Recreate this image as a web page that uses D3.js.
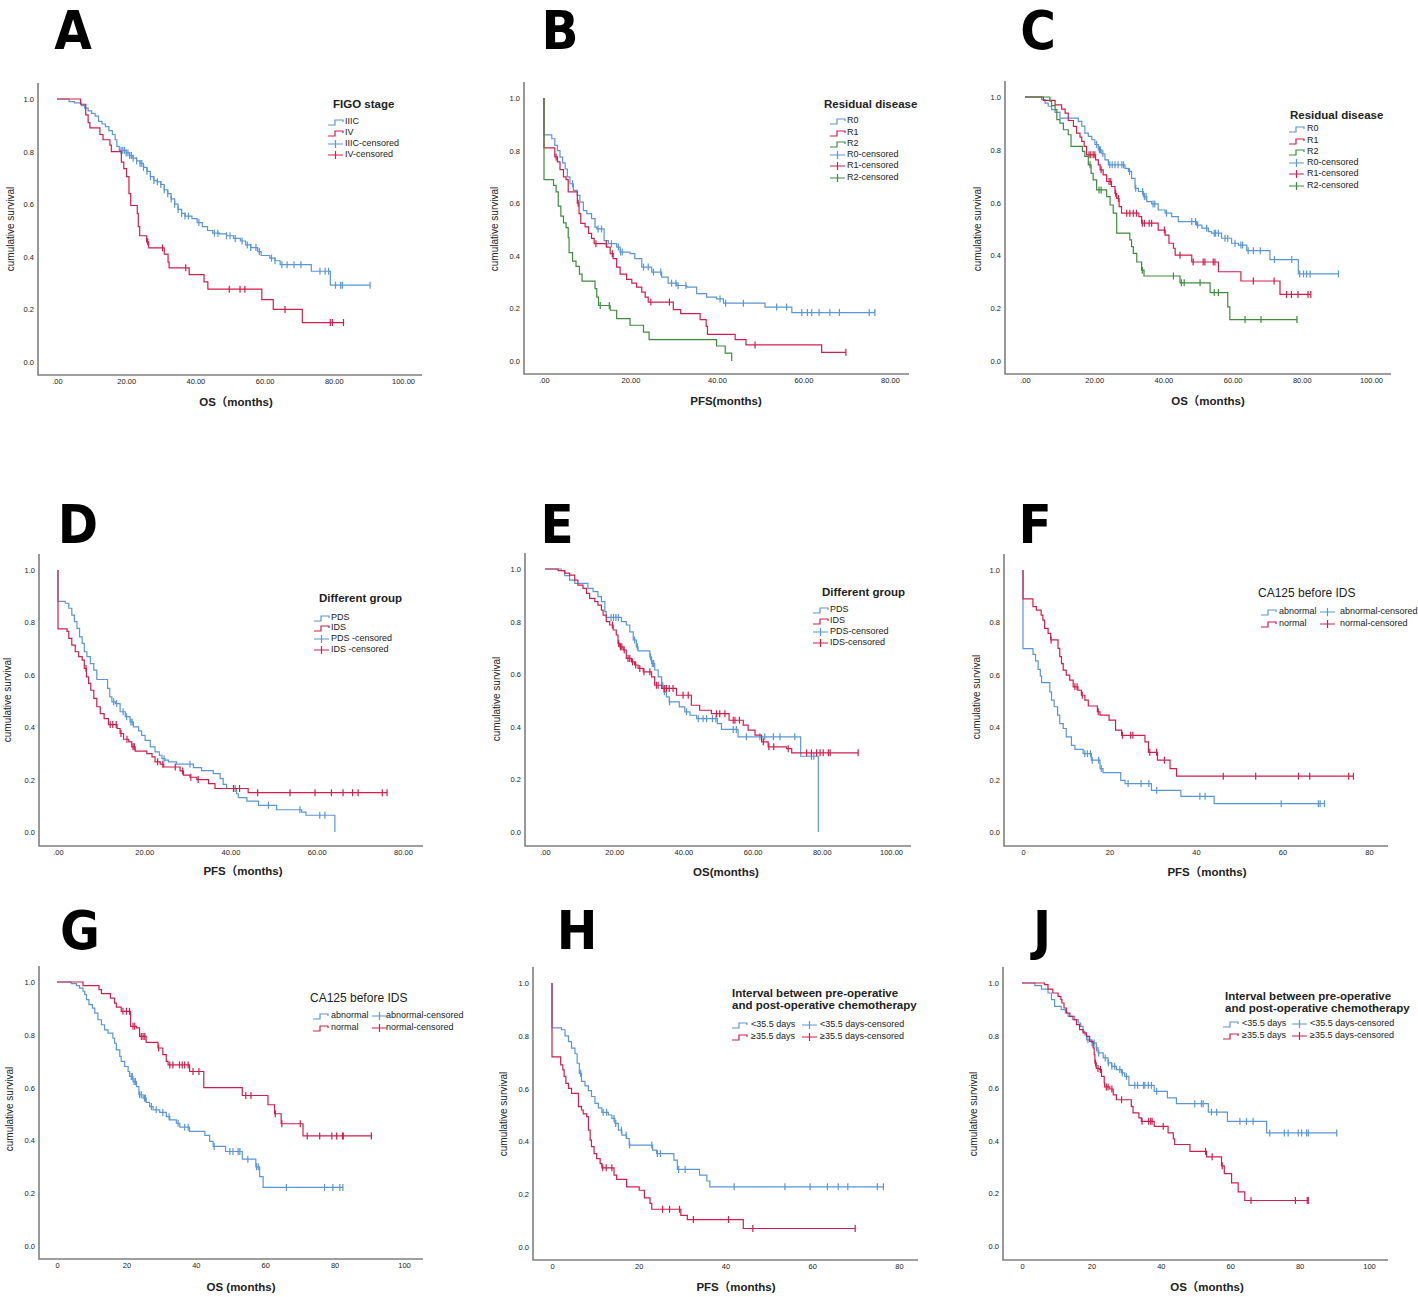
<!DOCTYPE html>
<html>
<head>
<meta charset="utf-8">
<script src="https://cdn.jsdelivr.net/npm/d3@7"></script>
<style>
  body { margin: 0; background: #fff; }
  svg { display: block; }
</style>
</head>
<body>
<div id="chart"></div>
<script>
// ---- data: [time, survival after the drop] steps and censor times ----
const A_IIIC = [[3.5,.99],[5,.985],[7,.975],[8,.965],[9,.955],[10,.945],[11,.935],[12,.915],[13,.905],[14,.895],[15,.88],[16,.865],[16.8,.845],[17.3,.82],[18,.805],[20,.795],[21,.785],[22,.775],[23,.765],[24,.755],[25,.74],[26,.725],[27,.705],[28,.69],[29,.685],[30,.675],[31,.655],[32,.64],[33,.62],[34,.6],[35,.58],[36,.565],[37,.555],[39,.545],[40.5,.53],[42,.515],[43.5,.5],[45,.49],[47,.487],[49,.48],[51,.47],[53,.46],[54.5,.445],[56,.435],[58,.42],[59,.405],[61.5,.395],[63,.385],[64.5,.37],[73.5,.345],[79,.292]]
const A_IIIC_cens = [18.5,19,19.5,20,20.5,21,21.5,22,23,24,24.5,25,26,27,28,29,30,31,32,33,34,35,36,37,38,41,45.5,46.5,49,50,51.5,53.5,55,56,57.5,58.5,62,63,65,66.5,68.5,70.5,76,77.5,78.5,80.5,82,82.5,90.5]
const A_IV = [[6.8,.98],[8.3,.94],[9,.91],[9.5,.89],[12.4,.865],[13.3,.845],[15.3,.825],[15.7,.8],[18.6,.76],[19.3,.735],[20.1,.705],[20.8,.64],[21.3,.595],[23.2,.565],[23.5,.515],[23.9,.48],[25.9,.457],[26.5,.434],[31,.41],[32.1,.38],[32.4,.358],[38.2,.332],[42.5,.305],[43.6,.277],[59.2,.237],[62.5,.2],[70.9,.15]]
const A_IV_cens = [26.2,30.5,37.2,49.8,52.9,54.3,65.9,79,79.6,82.8]

const B_R0 = [[0,.86],[1.8,.845],[2.5,.82],[3.1,.8],[3.7,.775],[4.3,.753],[4.9,.73],[5.4,.7],[6,.674],[6.8,.649],[7.7,.63],[8.3,.604],[9.1,.572],[9.9,.56],[11,.541],[11.8,.509],[12.2,.502],[13.9,.458],[14.9,.446],[16.8,.433],[17.6,.414],[19.9,.408],[21,.389],[22.6,.357],[24.9,.338],[27.2,.319],[28.7,.296],[30.7,.287],[33,.281],[35.3,.256],[37.6,.243],[39.9,.236],[41.5,.22],[51.1,.205],[57.3,.184]]
const B_R0_cens = [6.6,12.5,13.3,15.6,17.2,17.7,18.1,23,24.1,25.3,27,29.5,30.5,31,32.8,40.7,42,46.1,53.8,56.1,59.6,60.9,61.9,63.6,66.1,68.3,75.2,76.5]
const B_R1 = [[0,.81],[2.5,.776],[3.1,.757],[3.7,.728],[4.5,.7],[5.1,.69],[5.6,.643],[7.7,.6],[8.1,.56],[8.5,.523],[9.5,.51],[10.3,.485],[11,.466],[11.6,.446],[14.5,.433],[15.3,.408],[16,.389],[16.8,.357],[17.6,.33],[19.1,.31],[20.3,.296],[21.4,.281],[22.6,.262],[23.4,.243],[24.1,.224],[29.9,.195],[31.6,.18],[36.1,.157],[37.5,.132],[37.8,.101],[44.2,.081],[46.7,.061],[64.2,.033]]
const B_R1_cens = [2.8,7.9,12,14.4,15.8,24.7,29,48.8,69.8]
const B_R2 = [[0,.69],[2.2,.668],[2.8,.643],[3.3,.589],[3.9,.551],[4.5,.525],[5.1,.507],[5.6,.469],[5.8,.412],[6.6,.38],[7.4,.36],[8.2,.33],[8.8,.304],[11.8,.275],[12.2,.243],[12.6,.211],[15.3,.193],[16.8,.161],[19.9,.136],[23,.11],[24.3,.081],[39.9,.057],[41.9,.03],[43.4,0]]
const B_R2_cens = [13,15.1]

const C_R0 = [[4.8,.99],[5.8,.977],[6.7,.965],[7.7,.952],[8.7,.942],[10.1,.92],[15.4,.908],[16.4,.89],[17.3,.863],[18.3,.851],[19.3,.838],[20.2,.82],[21.2,.8],[22.2,.785],[23.1,.762],[24.1,.743],[28.9,.73],[29.9,.718],[30.8,.692],[31.8,.654],[32.8,.642],[34.2,.623],[35.2,.604],[36.6,.595],[38.5,.572],[40.5,.56],[42.4,.547],[44.3,.528],[49.6,.515],[51.1,.503],[53,.49],[53.9,.484],[56.8,.465],[59.7,.446],[61.7,.439],[64.1,.418],[70.8,.384],[79,.33]]
const C_R0_cens = [20.7,21.5,21.8,22.5,24.5,25.2,26,26.9,28,28.5,30.2,32,34,34.5,35,37,37.5,40.9,48.2,49.3,49.9,52.5,54.7,55.1,55.9,57.8,58.6,60.7,62.4,62.9,64.5,66,68,72.1,77.1,79.4,80.5,81.4,82.4,90.6]
const C_R1 = [[5.3,.987],[8.7,.97],[10.6,.954],[11.6,.939],[12.5,.911],[14,.889],[14.9,.863],[15.9,.848],[16.4,.832],[17.1,.813],[17.8,.781],[20.4,.762],[21.2,.743],[21.7,.724],[22.6,.705],[23.6,.68],[25,.661],[26,.635],[26.5,.616],[27.2,.585],[27.9,.56],[32.9,.547],[33.7,.522],[38.5,.496],[40.5,.477],[41.6,.446],[42.9,.427],[43.4,.401],[48.2,.375],[55.9,.338],[62.4,.303],[73.7,.252]]
const C_R1_cens = [18.5,19,19.7,20.2,22,24.3,24.8,26.2,27,29.4,30.3,31.3,32.2,33.9,34.5,35.9,36.6,40.3,44.8,48.6,51.5,52,54.4,54.9,66,72,75.6,77,78.9,81.8,82.6]
const C_R2 = [[7.2,.984],[7.7,.967],[8.7,.952],[9.2,.914],[10.1,.901],[11.1,.876],[12.5,.857],[13.3,.813],[16.6,.794],[17.3,.775],[18.3,.743],[19.1,.711],[19.7,.686],[20.7,.648],[23.6,.623],[24.6,.591],[25.5,.56],[26.5,.484],[30.3,.459],[30.8,.433],[31.3,.408],[32.3,.375],[33.7,.344],[34.4,.322],[44.8,.296],[53.5,.259],[58.6,.205],[59.2,.157]]
const C_R2_cens = [18.8,21.4,22,33.9,42.9,45.2,46,50.6,54.7,55.9,63.6,68.2,78.6]

const D_PDS = [[0,.88],[1.7,.873],[2.5,.854],[3.2,.828],[3.8,.803],[4.4,.777],[5,.745],[5.6,.72],[6.1,.688],[6.7,.669],[7.5,.643],[8.3,.618],[9,.582],[11.5,.548],[12,.516],[12.5,.497],[13.3,.49],[14.4,.459],[15.6,.44],[16.7,.42],[17.5,.401],[18.7,.386],[19.4,.369],[20.2,.35],[21.4,.325],[22.5,.306],[23.5,.293],[24.1,.28],[24.8,.274],[25.6,.268],[27.5,.259],[31.4,.246],[33.3,.234],[36,.223],[37.6,.204],[38.3,.182],[39.1,.166],[41.4,.146],[41.8,.131],[43.8,.118],[46.5,.102],[50.7,.085],[56.5,.076],[57.5,.064],[64.2,0]]
const D_PDS_cens = [12.9,13.6,15.1,15.9,16.9,17.2,24.6,30.6,40.7,41.1,48.8,56.1,60.7,61.9]
const D_IDS = [[0,.775],[2.1,.766],[2.5,.739],[3.2,.713],[4,.688],[4.8,.669],[5.6,.656],[6.1,.624],[6.6,.592],[7.1,.567],[7.6,.541],[8.3,.51],[9,.478],[9.8,.452],[10.7,.433],[11.7,.41],[13.7,.395],[14.4,.376],[15.2,.354],[16.4,.344],[17.1,.325],[17.9,.309],[20.6,.299],[21.8,.287],[22.5,.268],[23.7,.259],[24.5,.248],[28.3,.233],[29.1,.217],[30.6,.209],[32.2,.2],[34.9,.185],[36.4,.166],[44.1,.15]]
const D_IDS_cens = [6.5,12.1,12.7,13.5,14.6,16,17.4,17.7,23.1,24.3,27.2,28.9,30.8,32.5,40.7,42.1,46.3,53.8,59.6,63.4,66.1,68.3,69.6,75.2,76.3]

const E_PDS = [[4.7,.994],[5.7,.975],[7.1,.958],[8.6,.945],[12.4,.926],[13.9,.914],[15.3,.895],[16.3,.876],[17.3,.838],[17.7,.816],[22.1,.8],[23.5,.787],[24.5,.761],[25.5,.73],[26.4,.704],[26.9,.689],[30.3,.666],[30.8,.641],[31.7,.616],[32.7,.59],[33.7,.558],[34.3,.533],[35.1,.514],[35.9,.495],[38.8,.476],[40.4,.457],[41.9,.444],[43.8,.431],[49.8,.412],[51,.39],[55.8,.362],[73.9,.288],[79,0]]
const E_PDS_cens = [19.1,19.8,20.5,21.2,25.9,26.7,30.5,31,31.4,34,34.5,36,40.9,44.3,45.7,46.7,48.4,49.4,54.4,55.3,58.2,62.1,63.5,66,67.9,72.2,77,77.7]
const E_IDS = [[3.8,.994],[5.7,.984],[7.1,.977],[8.6,.958],[9.5,.939],[11,.926],[12,.907],[12.9,.888],[14.4,.876],[15.3,.863],[16.3,.844],[16.8,.825],[17.7,.8],[18.7,.787],[19.7,.768],[20.6,.749],[21.1,.717],[21.6,.704],[22.6,.692],[23.5,.66],[25,.647],[25.9,.635],[26.9,.622],[28.4,.609],[30.8,.59],[31.7,.558],[33.7,.546],[38,.52],[42.3,.482],[44.7,.463],[48.1,.45],[53.2,.425],[57.3,.406],[58.7,.387],[60.7,.368],[62.6,.343],[64.5,.324],[69.8,.317],[71.3,.301]]
const E_IDS_cens = [19.5,21.3,21.8,22.2,22.9,24,24.5,25.3,26.2,27.4,28.6,30.3,32.2,32.7,34.6,35.1,35.9,37,39.9,41.4,49.6,50.5,52,54.4,54.9,56.2,63.1,64.7,66.1,70.3,75.6,77,78.5,79.5,80.4,81.9,82.4,90.5]

const F_ABN = [[0,.7],[2.3,.678],[2.9,.653],[3.5,.621],[4,.595],[4.3,.57],[6.2,.535],[6.6,.503],[7.2,.478],[8,.446],[8.5,.414],[9.3,.395],[10,.363],[11.2,.331],[12,.315],[13.9,.299],[15.8,.274],[17.8,.242],[18.5,.227],[22.6,.197],[23.6,.185],[29.7,.159],[36.5,.136],[44.2,.108]]
const F_ABN_cens = [14.3,14.9,15.6,16,17.5,18.1,24.3,27.3,29.1,30.9,40.9,42.1,59.7,68.3,68.7,69.7]
const F_NOR = [[0,.89],[2.3,.86],[3.1,.847],[4.2,.828],[4.6,.809],[5,.777],[5.8,.758],[6.4,.733],[8.1,.701],[8.5,.669],[8.9,.643],[9.3,.618],[10,.599],[10.8,.58],[11.6,.554],[12.7,.541],[13.5,.522],[14.3,.503],[15.1,.481],[17.2,.459],[17.8,.446],[19.9,.427],[21.4,.389],[22.8,.369],[28.2,.344],[29,.304],[31.1,.274],[34,.242],[35.5,.213]]
const F_NOR_cens = [6.5,12,12.5,13.7,17.4,23,24.9,25.4,29.3,30.9,32.7,46.3,53.8,63.7,66.3,75.3,76.4]

const G_ABN = [[4.1,.994],[5.6,.986],[6.5,.977],[7.5,.965],[8,.952],[8.5,.933],[9.2,.914],[10.2,.901],[10.9,.882],[11.8,.857],[12.8,.838],[13.7,.819],[14.7,.806],[16.1,.787],[16.6,.768],[17.1,.743],[18.1,.718],[18.5,.699],[19.5,.68],[20.5,.661],[20.9,.642],[21.9,.623],[22.9,.604],[23.6,.573],[24.8,.56],[25.7,.544],[26.7,.528],[27.7,.516],[29.6,.506],[31.5,.49],[32.5,.478],[34.4,.465],[35.4,.45],[38.2,.434],[42.6,.419],[44,.396],[45,.377],[48.6,.358],[53.4,.329],[57.3,.3],[58.4,.263],[59.4,.222]]
const G_ABN_cens = [21.4,21.7,22.2,22.6,23.8,24.3,25.2,25.5,27.2,28.6,30.5,32.3,34.9,36.8,37.8,45.3,49.8,50.7,52.2,52.7,55,57.5,58,66.1,77.1,79.5,81.5,82.4]
const G_NOR = [[7.5,.986],[12.1,.971],[12.8,.956],[15.4,.939],[16.6,.92],[17.1,.905],[18.5,.889],[21.2,.832],[22.9,.826],[23.8,.794],[25.7,.771],[29.1,.75],[30.5,.725],[31.5,.699],[32,.686],[38.2,.661],[42.3,.6],[53.4,.57],[60.8,.535],[62.7,.501],[64.6,.463],[70.9,.417]]
const G_NOR_cens = [19,20,20.9,21.9,22.4,24.3,24.8,25.3,29.3,32.5,33.4,35.3,36.1,36.8,37.8,39.2,40.9,54.4,55.9,62.9,64.8,70.1,72.1,75.7,79.2,80.6,82.3,82.5,90.6]

const H_LT = [[0,.83],[2.2,.823],[3,.8],[3.8,.778],[4.5,.753],[5.3,.732],[5.8,.696],[6.3,.658],[6.8,.627],[7.6,.61],[8.4,.592],[9.1,.57],[9.9,.544],[10.7,.527],[11.5,.51],[13,.5],[13.8,.487],[14.5,.468],[15.3,.443],[16.1,.424],[17.2,.411],[17.8,.386],[23.2,.367],[24.1,.354],[28.1,.329],[28.9,.294],[34,.272],[35.7,.25],[36.4,.228]]
const H_LT_cens = [6.6,11.8,12.6,14.3,14.7,16,17.1,17.9,23,24.3,25,29.2,30.7,42,53.7,59.5,63.5,66,68.2,75,76.4]
const H_GE = [[0,.72],[2,.69],[2.5,.671],[2.8,.646],[3.2,.62],[3.8,.601],[4.5,.582],[6.1,.532],[6.8,.519],[7.2,.504],[8,.494],[8.4,.443],[8.8,.405],[9.1,.38],[9.7,.354],[10.3,.335],[11.1,.316],[11.5,.3],[14.3,.272],[14.9,.256],[17.2,.228],[20.1,.215],[21.3,.186],[22.6,.165],[23,.143],[29.7,.12],[31.2,.104],[44.1,.07]]
const H_GE_cens = [11.7,12.5,13.8,25.5,27.1,29.4,32.6,40.7,46.3,69.9]

const J_LT = [[3.7,.99],[5.6,.977],[7.5,.962],[8.5,.937],[9.4,.911],[11.3,.899],[12.5,.886],[13.3,.873],[15.2,.861],[16.2,.848],[16.9,.835],[17.6,.816],[18.1,.803],[18.6,.784],[20,.772],[21.4,.753],[21.9,.734],[23.4,.715],[24.8,.696],[25.8,.683],[27.2,.671],[28.7,.658],[29.6,.645],[30.8,.611],[38.1,.588],[41.9,.563],[44.5,.541],[53.7,.509],[59.2,.474],[70.5,.43]]
const J_LT_cens = [19,20.2,20.8,21.5,22.1,24,24.9,25.9,26.7,28.2,28.9,30.1,32.5,33.3,35,35.4,36.4,37.3,38.8,49.8,51.7,52.2,54.6,56.1,62.8,64.7,66.6,71.4,75.6,76.7,79.6,80.6,82,82.5,90.7]
const J_GE = [[6.5,.994],[7.5,.977],[8.9,.962],[10.4,.949],[11.2,.937],[11.5,.924],[12.1,.905],[12.8,.886],[13.8,.873],[14.7,.861],[15.7,.842],[16.6,.823],[17.6,.81],[18.6,.797],[19.5,.778],[20.5,.753],[20.8,.728],[21,.696],[21.4,.675],[22.4,.671],[22.9,.645],[23.7,.62],[23.8,.605],[25.3,.597],[26.3,.575],[27.2,.556],[31.5,.531],[32,.506],[33.7,.487],[34.4,.474],[38.1,.455],[42.1,.43],[43.6,.407],[44,.386],[48.4,.36],[53.2,.339],[57.5,.305],[58.3,.275],[60.4,.24],[62.3,.206],[64.2,.173]]
const J_GE_cens = [21.2,21.9,22.6,24.3,24.8,25.9,28.7,34.6,36.5,37.1,37.5,40.7,52.9,54.8,57.7,66,78.8,82.2,82.5]

const Y_TICKS = [0, 0.2, 0.4, 0.6, 0.8, 1]
const X_TICKS_100 = [0, 20, 40, 60, 80, 100]
const X_TICKS_80 = [0, 20, 40, 60, 80]

// ---- styling ----
const BLUE = '#5b97d6'
const RED = '#d11e4c'
const GREEN = '#3f8c3f'
const AXIS = '#808080'
const TXT = '#222'
const dec = (v) => v === 0 ? '.00' : v.toFixed(2)
const int = (v) => String(v)

const panels = [
  { letter: 'A', lx: 73, ly: 49, xMax: 100, ticks: X_TICKS_100, fmt: dec, px: [57, 403], py: [99, 362], axX: 38, axY: 375, axR: 422,
    xTitle: 'OS（months)', xtx: 236, xty: 403, ytx: 11, yty: 229,
    lg: { kind: 'list', title: ['FIGO stage'], tx: 333, ty: 105, rows: [122, 133, 144, 155], sx: 328, txx: 345 },
    labels: ['IIIC', 'IV', 'IIIC-censored', 'IV-censored'],
    curves: [[A_IIIC, A_IIIC_cens, BLUE], [A_IV, A_IV_cens, RED]] },
  { letter: 'B', lx: 560, ly: 49, xMax: 80, ticks: X_TICKS_80, fmt: dec, px: [544, 890], py: [98, 361], axX: 524, axY: 374, axR: 909,
    xTitle: 'PFS(months)', xtx: 726, xty: 402, ytx: 495, yty: 229,
    lg: { kind: 'list', title: ['Residual disease'], tx: 824, ty: 105, rows: [121, 133, 144, 155, 166, 178], sx: 830, txx: 847 },
    labels: ['R0', 'R1', 'R2', 'R0-censored', 'R1-censored', 'R2-censored'],
    curves: [[B_R0, B_R0_cens, BLUE], [B_R1, B_R1_cens, RED], [B_R2, B_R2_cens, GREEN]] },
  { letter: 'C', lx: 1038, ly: 49, xMax: 100, ticks: X_TICKS_100, fmt: dec, px: [1025, 1371], py: [97, 361], axX: 1005, axY: 374, axR: 1391,
    xTitle: 'OS（months)', xtx: 1208, xty: 402, ytx: 978, yty: 229,
    lg: { kind: 'list', title: ['Residual disease'], tx: 1290, ty: 116, rows: [129, 141, 152, 163, 174, 186], sx: 1289, txx: 1307 },
    labels: ['R0', 'R1', 'R2', 'R0-censored', 'R1-censored', 'R2-censored'],
    curves: [[C_R0, C_R0_cens, BLUE], [C_R1, C_R1_cens, RED], [C_R2, C_R2_cens, GREEN]] },
  { letter: 'D', lx: 78, ly: 543, xMax: 80, ticks: X_TICKS_80, fmt: dec, px: [58, 403], py: [570, 832], axX: 39, axY: 846, axR: 423,
    xTitle: 'PFS（months)', xtx: 243, xty: 872, ytx: 8, yty: 700,
    lg: { kind: 'list', title: ['Different group'], tx: 319, ty: 599, rows: [618, 628, 639, 650], sx: 314, txx: 331 },
    labels: ['PDS', 'IDS', 'PDS -censored', 'IDS -censored'],
    curves: [[D_PDS, D_PDS_cens, BLUE], [D_IDS, D_IDS_cens, RED]] },
  { letter: 'E', lx: 557, ly: 543, xMax: 100, ticks: X_TICKS_100, fmt: dec, px: [545, 891], py: [569, 832], axX: 525, axY: 846, axR: 911,
    xTitle: 'OS(months)', xtx: 726, xty: 873, ytx: 497, yty: 699,
    lg: { kind: 'list', title: ['Different group'], tx: 822, ty: 593, rows: [610, 621, 632, 643], sx: 813, txx: 830 },
    labels: ['PDS', 'IDS', 'PDS-censored', 'IDS-censored'],
    curves: [[E_PDS, E_PDS_cens, BLUE], [E_IDS, E_IDS_cens, RED]] },
  { letter: 'F', lx: 1035, ly: 543, xMax: 80, ticks: X_TICKS_80, fmt: int, px: [1023, 1369], py: [570, 832], axX: 1004, axY: 846, axR: 1388,
    xTitle: 'PFS（months)', xtx: 1207, xty: 873, ytx: 977, yty: 697,
    lg: { kind: 'grid', title: ['CA125 before IDS'], light: true, tx: 1258, ty: 594, rows: [612, 624], sx: [1261, 1320], txx: [1279, 1340] },
    labels: ['abnormal', 'normal', 'abnormal-censored', 'normal-censored'],
    curves: [[F_ABN, F_ABN_cens, BLUE], [F_NOR, F_NOR_cens, RED]] },
  { letter: 'G', lx: 80, ly: 949, xMax: 100, ticks: X_TICKS_100, fmt: int, px: [57, 404], py: [982, 1246], axX: 39, axY: 1259, axR: 423,
    xTitle: 'OS (months)', xtx: 241, xty: 1288, ytx: 10, yty: 1109,
    lg: { kind: 'grid', title: ['CA125 before IDS'], light: true, tx: 310, ty: 999, rows: [1016, 1028], sx: [313, 372], txx: [331, 386] },
    labels: ['abnormal', 'normal', 'abnormal-censored', 'normal-censored'],
    curves: [[G_ABN, G_ABN_cens, BLUE], [G_NOR, G_NOR_cens, RED]] },
  { letter: 'H', lx: 577, ly: 949, xMax: 80, ticks: X_TICKS_80, fmt: int, px: [552, 899], py: [983, 1247], axX: 533, axY: 1260, axR: 918,
    xTitle: 'PFS（months)', xtx: 736, xty: 1288, ytx: 504, yty: 1114,
    lg: { kind: 'grid', title: ['Interval between pre-operative', 'and post-operative chemotherapy'], tx: 732, ty: 994, rows: [1025, 1037], sx: [732, 802], txx: [751, 820] },
    labels: ['<35.5 days', '≥35.5 days', '<35.5 days-censored', '≥35.5 days-censored'],
    curves: [[H_LT, H_LT_cens, BLUE], [H_GE, H_GE_cens, RED]] },
  { letter: 'J', lx: 1042, ly: 949, xMax: 100, ticks: X_TICKS_100, fmt: int, px: [1022, 1369], py: [983, 1246], axX: 1003, axY: 1260, axR: 1388,
    xTitle: 'OS（months)', xtx: 1207, xty: 1288, ytx: 974, yty: 1114,
    lg: { kind: 'grid', title: ['Interval between pre-operative', 'and post-operative chemotherapy'], tx: 1225, ty: 997, rows: [1024, 1036], sx: [1223, 1292], txx: [1242, 1310] },
    labels: ['<35.5 days', '≥35.5 days', '<35.5  days-censored', '≥35.5 days-censored'],
    curves: [[J_LT, J_LT_cens, BLUE], [J_GE, J_GE_cens, RED]] }
]

const svg = d3.select('#chart').append('svg')
  .attr('width', 1418)
  .attr('height', 1297)
  .style('font-family', "'Liberation Sans', Arial, sans-serif")

function survAt (steps, t) {
  let s = 1
  steps.forEach(([tt, v]) => { if (tt <= t) s = v })
  return s
}

function stepPoints (steps, end) {
  const pts = [[0, 1]]
  let s = 1
  steps.forEach(([t, v]) => { pts.push([t, s]); pts.push([t, v]); s = v })
  pts.push([end, s])
  return pts
}

function stepIcon (g, x0, y, color) {
  g.append('path')
    .attr('d', `M${x0},${y + 3}h7v-5h8v2`)
    .attr('fill', 'none').attr('stroke', color).attr('stroke-width', 1.2)
}

function censIcon (g, x0, y, color) {
  g.append('path')
    .attr('d', `M${x0},${y}h15M${x0 + 7.5},${y - 4}v8`)
    .attr('fill', 'none').attr('stroke', color).attr('stroke-width', 1.2)
}

function drawPanel (p) {
  const g = svg.append('g')
  const x = d3.scaleLinear().domain([0, p.xMax]).range(p.px)
  const y = d3.scaleLinear().domain([0, 1]).range([p.py[1], p.py[0]])

  // panel letter
  g.append('text')
    .attr('x', p.lx).attr('y', p.ly)
    .attr('text-anchor', 'middle')
    .style('font-family', "'Liberation Sans Narrow', 'DejaVu Sans Condensed', sans-serif")
    .style('font-weight', 'bold')
    .style('font-size', '54px')
    .attr('fill', '#000')
    .text(p.letter)

  // axes
  const xAxis = d3.axisBottom(x).tickValues(p.ticks).tickFormat(p.fmt).tickSize(0).tickPadding(4)
  const yAxis = d3.axisLeft(y).tickValues(Y_TICKS).tickFormat(d3.format('.1f')).tickSize(0).tickPadding(4)

  g.append('g').attr('transform', `translate(0,${p.axY})`).call(xAxis)
    .call((a) => a.select('.domain').remove())
    .selectAll('text').attr('fill', TXT).style('font-size', '7.5px')
  g.append('g').attr('transform', `translate(${p.axX},0)`).call(yAxis)
    .call((a) => a.select('.domain').remove())
    .selectAll('text').attr('fill', TXT).style('font-size', '7.5px')

  g.append('path')
    .attr('d', `M${p.axX},${p.py[0] - 16}V${p.axY}H${p.axR}`)
    .attr('fill', 'none').attr('stroke', AXIS).attr('stroke-width', 1.6)

  g.append('text')
    .attr('x', p.xtx).attr('y', p.xty)
    .attr('text-anchor', 'middle').attr('dominant-baseline', 'middle')
    .style('font-family', "'Liberation Sans', 'Noto Sans CJK SC', sans-serif")
    .style('font-weight', 'bold').style('font-size', '11.5px')
    .attr('fill', TXT)
    .text(p.xTitle)

  g.append('text')
    .attr('transform', `translate(${p.ytx},${p.yty}) rotate(-90)`)
    .attr('text-anchor', 'middle').attr('dominant-baseline', 'middle')
    .style('font-size', '10px')
    .attr('fill', TXT)
    .text('cumulative survival')

  // curves
  const line = d3.line().x((d) => x(d[0])).y((d) => y(d[1]))
  p.curves.forEach(([steps, cens, color]) => {
    const end = Math.max(steps[steps.length - 1][0], d3.max(cens))
    g.append('path')
      .attr('d', line(stepPoints(steps, end)))
      .attr('fill', 'none').attr('stroke', color).attr('stroke-width', 1.2)
    g.selectAll(null).data(cens).enter().append('line')
      .attr('x1', (t) => x(t)).attr('x2', (t) => x(t))
      .attr('y1', (t) => y(survAt(steps, t)) - 3.5)
      .attr('y2', (t) => y(survAt(steps, t)) + 3.5)
      .attr('stroke', color).attr('stroke-width', 1.2)
  })

  // legend
  const lg = p.lg
  lg.title.forEach((t, i) => {
    g.append('text')
      .attr('x', lg.tx).attr('y', lg.ty + i * 12)
      .attr('dominant-baseline', 'middle')
      .style('font-family', "'Liberation Sans', sans-serif")
      .style('font-weight', lg.light ? 'normal' : 'bold')
      .style('font-size', lg.light ? '12px' : '11.5px')
      .attr('fill', TXT)
      .text(t)
  })
  const n = p.curves.length
  p.labels.forEach((lab, i) => {
    const c = p.curves[i % n][2]
    const isCens = i >= n
    let sx, tx, ry
    if (lg.kind === 'list') {
      sx = lg.sx; tx = lg.txx; ry = lg.rows[i]
    } else {
      const col = isCens ? 1 : 0
      sx = lg.sx[col]; tx = lg.txx[col]; ry = lg.rows[i % n]
    }
    if (isCens) censIcon(g, sx, ry, c)
    else stepIcon(g, sx, ry, c)
    g.append('text')
      .attr('x', tx).attr('y', ry)
      .attr('dominant-baseline', 'middle')
      .style('font-size', '9px')
      .attr('fill', TXT)
      .text(lab)
  })
}

panels.forEach(drawPanel)
</script>
</body>
</html>
